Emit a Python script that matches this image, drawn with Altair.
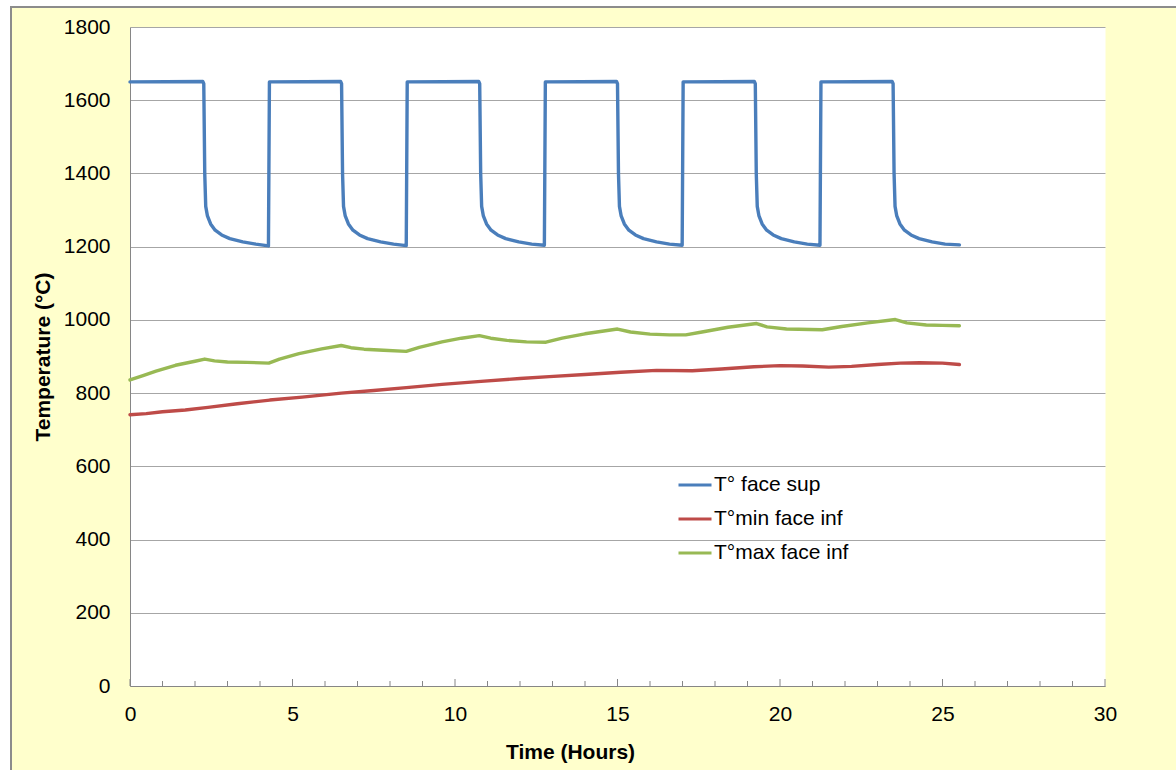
import altair as alt
import pandas as pd

# ---- data ----
sup_t = [0, 2.24, 2.27, 2.30, 2.33, 2.38, 2.48, 2.62, 2.82, 3.07, 3.47, 3.87, 4.26,
         4.29, 6.48, 6.51, 6.54, 6.57, 6.62, 6.72, 6.86, 7.06, 7.31, 7.71, 8.11, 8.50,
         8.53, 10.73, 10.76, 10.79, 10.82, 10.87, 10.97, 11.11, 11.31, 11.56, 11.96, 12.36, 12.75,
         12.78, 14.97, 15.00, 15.03, 15.06, 15.11, 15.21, 15.35, 15.55, 15.80, 16.20, 16.60, 16.99,
         17.02, 19.21, 19.24, 19.27, 19.30, 19.35, 19.45, 19.59, 19.79, 20.04, 20.44, 20.84, 21.23,
         21.26, 23.45, 23.48, 23.51, 23.54, 23.59, 23.69, 23.83, 24.03, 24.28, 24.68, 25.08, 25.52]
sup_v = [1650, 1651, 1645, 1400, 1310, 1285, 1262, 1245, 1232, 1222, 1213, 1207, 1202,
         1650, 1651, 1645, 1400, 1310, 1285, 1262, 1245, 1232, 1222, 1213, 1207, 1203,
         1650, 1651, 1645, 1400, 1310, 1285, 1262, 1245, 1232, 1222, 1213, 1207, 1204,
         1650, 1651, 1645, 1400, 1310, 1285, 1262, 1245, 1232, 1222, 1213, 1207, 1204,
         1650, 1651, 1645, 1400, 1310, 1285, 1262, 1245, 1232, 1222, 1213, 1207, 1204,
         1650, 1651, 1645, 1400, 1310, 1285, 1262, 1245, 1232, 1222, 1213, 1207, 1205]

min_t = [0, 0.5, 1.0, 1.7, 2.4, 3.3, 4.3, 5.3, 6.5, 7.5, 8.5, 9.6, 10.8, 12.0, 12.9,
         14.0, 15.1, 16.2, 17.3, 18.2, 19.2, 20.0, 20.7, 21.5, 22.2, 23.0, 23.7, 24.3, 25.0, 25.52]
min_v = [741, 744, 749, 754, 761, 771, 781, 789, 800, 807, 815, 824, 832, 840, 845,
         851, 857, 862, 861, 866, 872, 875, 874, 871, 873, 878, 882, 883, 882, 878]

max_t = [0, 0.4, 0.8, 1.4, 2.0, 2.3, 2.6, 3.0, 3.6, 4.27, 4.6, 5.2, 5.9, 6.5, 6.8, 7.2,
         7.8, 8.5, 8.9, 9.6, 10.2, 10.75, 11.1, 11.6, 12.2, 12.8, 13.3, 14.0, 15.0, 15.4,
         16.0, 16.6, 17.1, 17.6, 18.4, 19.28, 19.6, 20.2, 21.3, 21.9, 22.7, 23.55, 23.9,
         24.5, 25.0, 25.52]
max_v = [836, 848, 860, 876, 887, 893, 888, 885, 884, 882, 893, 908, 921, 930, 924, 920,
         917, 914, 925, 940, 950, 957, 950, 944, 940, 939, 950, 962, 975, 967,
         961, 959, 959, 967, 980, 990, 981, 975, 973, 982, 992, 1001, 992,
         986, 985, 984]

series_names = ["T° face sup", "T°min face inf", "T°max face inf"]
series_colors = ["#4A7EBB", "#BE4B48", "#98B954"]

x_ticks_major = [0, 5, 10, 15, 20, 25, 30]
x_ticks_minor = [i for i in range(0, 31) if i % 5 != 0]
y_ticks = [0, 200, 400, 600, 800, 1000, 1200, 1400, 1600, 1800]

rows = []
for name, ts, vs in zip(series_names, [sup_t, min_t, max_t], [sup_v, min_v, max_v]):
    for i, (t, v) in enumerate(zip(ts, vs)):
        rows.append({"series": name, "t": t, "v": v, "i": i})
df = pd.DataFrame(rows)

W, H = 975, 659
FONT = "Liberation Sans"

x_scale = alt.Scale(domain=[0, 30], nice=False, zero=False)
y_scale = alt.Scale(domain=[0, 1800], nice=False)

x_axis = alt.Axis(values=x_ticks_major, title="Time (Hours)", grid=False, ticks=False,
                  format="d", labelFlush=False,
                  labelFont=FONT, labelFontSize=21, labelColor="black", labelPadding=17,
                  domainColor="#868686", domainWidth=1,
                  titleFont=FONT, titleFontSize=21, titleFontWeight="bold",
                  titleColor="black", titleX=440, titleY=66,
                  titleAlign="center", titleBaseline="middle")

one = pd.DataFrame({"k": [0]})

top_strip = alt.Chart(one).mark_rect(fill="white").encode(
    x=alt.value(-130), x2=alt.value(1100), y=alt.value(-27), y2=alt.value(-20))
left_strip = alt.Chart(one).mark_rect(fill="white").encode(
    x=alt.value(-130), x2=alt.value(-119), y=alt.value(-27), y2=alt.value(800))
border = alt.Chart(one).mark_rect(fillOpacity=0, stroke="#8C8C8C", strokeWidth=2).encode(
    x=alt.value(-119), x2=alt.value(1100), y=alt.value(-20), y2=alt.value(800))

minor = alt.Chart(pd.DataFrame({"t": x_ticks_minor})).mark_rule(color="#868686", strokeWidth=1).encode(
    x=alt.X("t:Q", scale=x_scale, axis=x_axis), y=alt.value(H), y2=alt.value(H - 5))
major = alt.Chart(pd.DataFrame({"t": x_ticks_major})).mark_rule(color="#868686", strokeWidth=1).encode(
    x=alt.X("t:Q", scale=x_scale, axis=x_axis), y=alt.value(H), y2=alt.value(H - 7))

lines = alt.Chart(df).mark_line(strokeWidth=3.4, strokeJoin="round", strokeCap="round").encode(
    x=alt.X("t:Q", scale=x_scale, axis=x_axis),
    y=alt.Y("v:Q", scale=y_scale,
            axis=alt.Axis(values=y_ticks, title="Temperature (°C)", grid=True, ticks=False,
                          format="d",
                          gridColor="#A6A6A6", gridWidth=1,
                          labelFont=FONT, labelFontSize=21, labelColor="black", labelPadding=20,
                          domainColor="#868686", domainWidth=1,
                          titleFont=FONT, titleFontSize=21, titleFontWeight="bold",
                          titleColor="black", titleX=-87, titleY=H / 2,
                          titleAlign="center", titleBaseline="middle")),
    color=alt.Color("series:N",
                    scale=alt.Scale(domain=series_names, range=series_colors),
                    legend=alt.Legend(title=None, orient="none", legendX=547, legendY=440,
                                      symbolType="stroke", symbolStrokeWidth=3, symbolSize=1089,
                                      labelFont=FONT, labelFontSize=21, labelColor="black",
                                      labelOffset=1, rowPadding=6, padding=0)),
    order=alt.Order("i:Q"),
)

chart = alt.layer(top_strip, left_strip, border, minor, major, lines).properties(
    width=W, height=H,
    padding={"left": 130, "top": 27, "right": 71, "bottom": 84},
    autosize=alt.AutoSizeParams(type="none"),
    background="#FFFFCC",
).configure_view(fill="white", stroke="transparent")

chart.save("out.html", embed_options={"renderer": "svg", "actions": False})
